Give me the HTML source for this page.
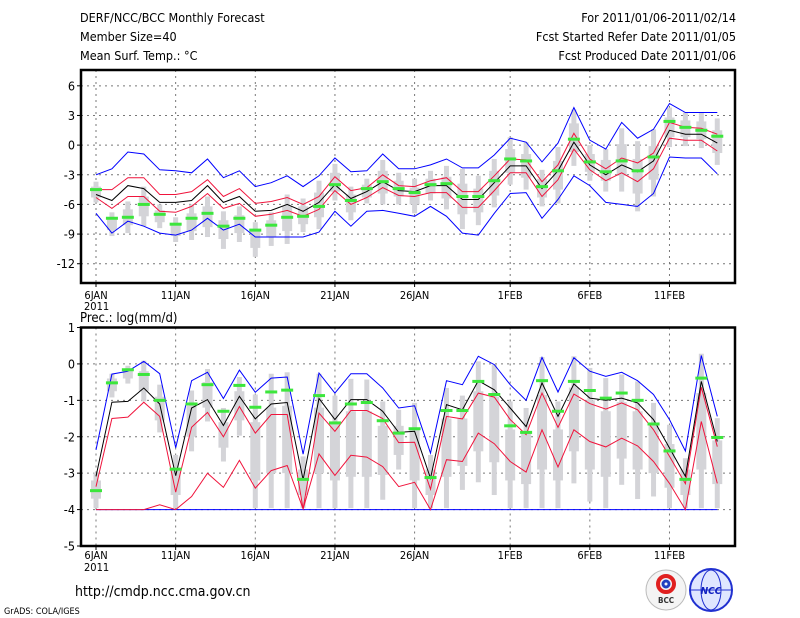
<!DOCTYPE html>
<html><head><meta charset="utf-8">
<style>
html,body{margin:0;padding:0;background:#fff;}
svg{display:block;font-family:"DejaVu Sans Condensed","Liberation Sans Narrow","Liberation Sans",sans-serif;}
</style></head>
<body>
<svg id="chart" width="800" height="618" viewBox="0 0 800 618">
<rect width="800" height="618" fill="#fff"/>
<g font-size="12.5" fill="#000">
<text x="80" y="22">DERF/NCC/BCC Monthly Forecast</text>
<text x="80" y="41">Member Size=40</text>
<text x="80" y="60">Mean Surf. Temp.: °C</text>
<text x="736" y="22" text-anchor="end">For 2011/01/06-2011/02/14</text>
<text x="736" y="41" text-anchor="end">Fcst Started Refer Date 2011/01/05</text>
<text x="736" y="60" text-anchor="end">Fcst Produced Date 2011/01/06</text>
</g>
<text x="80" y="322" font-size="13">Prec.: log(mm/d)</text>
<text x="75" y="596" font-size="14">http://cmdp.ncc.cma.gov.cn</text>
<text x="4" y="614" font-size="9">GrADS: COLA/IGES</text>
<g>
<circle cx="666" cy="590" r="20" fill="#f4f4f4" stroke="#bbb"/>
<circle cx="666" cy="584" r="8" fill="none" stroke="#e02020" stroke-width="4"/>
<circle cx="666" cy="584" r="3" fill="none" stroke="#2040c0" stroke-width="3"/>
<text x="666" y="603" font-size="8" text-anchor="middle" font-weight="bold" fill="#333">BCC</text>
</g>
<g>
<circle cx="711" cy="590" r="21" fill="#dfe6ff" stroke="#2030d0" stroke-width="2"/>
<ellipse cx="711" cy="590" rx="10" ry="20" fill="none" stroke="#2030d0"/>
<line x1="690" y1="590" x2="732" y2="590" stroke="#2030d0"/>
<text x="711" y="594" font-size="10" text-anchor="middle" font-style="italic" font-weight="bold" fill="#1020c0">NCC</text>
</g>
<g id="top"></g>
<g id="bot"></g>
</svg>
<script>
// ---- data ----
const dayLabels = ["6JAN","11JAN","16JAN","21JAN","26JAN","1FEB","6FEB","11FEB"];
const dayLabelIdx = [0,5,10,15,20,26,31,36];
const tTicks = [6,3,0,-3,-6,-9,-12];
const pTicks = [1,0,-1,-2,-3,-4,-5];
// temperature
const tMax = [-3.0,-2.4,-0.7,-0.9,-2.5,-2.6,-2.8,-1.4,-3.3,-2.6,-4.2,-3.8,-3.1,-4.2,-3.1,-1.3,-2.7,-2.6,-0.9,-2.4,-2.4,-2.0,-1.4,-2.3,-2.3,-1.0,0.7,0.3,-1.7,0.2,3.8,0.5,-0.4,2.3,0.7,1.6,4.2,3.3,3.3,3.3];
const tMin = [-6.9,-8.9,-7.7,-8.2,-8.9,-9.1,-8.6,-7.4,-8.6,-8.0,-9.3,-9.3,-9.3,-9.3,-8.8,-6.7,-8.2,-6.7,-6.6,-6.9,-7.2,-6.2,-7.2,-8.9,-9.1,-6.9,-4.9,-4.8,-7.4,-5.5,-3.1,-4.1,-5.8,-6.0,-6.2,-4.9,-1.2,-1.3,-1.3,-2.9];
const tRedHi = [-4.5,-4.5,-3.3,-3.3,-5.0,-5.0,-4.7,-3.5,-5.2,-4.4,-5.9,-5.7,-5.3,-6.0,-5.2,-3.2,-4.6,-4.3,-3.0,-4.1,-4.2,-3.6,-3.3,-4.7,-4.7,-3.1,-1.4,-1.5,-3.7,-2.0,1.2,-1.4,-2.4,-1.3,-1.8,-0.8,2.3,1.8,1.7,1.1];
const tRedLo = [-5.3,-6.4,-5.2,-5.2,-6.7,-6.8,-6.2,-4.9,-6.4,-5.9,-7.2,-7.0,-6.6,-7.2,-6.5,-4.6,-6.0,-5.3,-4.3,-5.1,-5.2,-4.8,-4.8,-6.3,-6.3,-4.6,-2.8,-2.8,-5.2,-3.5,-0.4,-2.5,-3.6,-2.8,-3.7,-2.4,0.7,0.5,0.5,-0.6];
const tMean = [-5.0,-5.6,-4.1,-4.4,-5.8,-5.8,-5.6,-4.1,-5.8,-5.2,-6.7,-6.6,-6.0,-6.7,-5.8,-4.0,-5.4,-4.7,-3.7,-4.6,-4.7,-4.1,-4.1,-5.5,-5.5,-3.8,-2.1,-2.1,-4.4,-2.6,0.3,-2.0,-3.0,-2.0,-2.7,-1.6,1.5,1.1,1.1,0.2];
const tObs = [-4.5,-7.4,-7.3,-6.0,-7.0,-8.0,-7.4,-6.9,-8.2,-7.4,-8.6,-8.1,-7.3,-7.2,-6.2,-4.0,-5.6,-4.4,-3.7,-4.4,-4.8,-4.0,-3.9,-5.2,-5.2,-3.6,-1.4,-1.6,-4.2,-2.6,0.6,-1.7,-2.7,-1.6,-2.6,-1.2,2.4,1.8,1.5,0.9];
const tBarHi = [-3.7,-6.8,-5.7,-4.2,-6.0,-7.3,-6.0,-5.2,-6.7,-6.2,-7.8,-6.8,-5.0,-5.4,-3.6,-1.9,-4.2,-3.4,-1.5,-2.8,-3.4,-2.6,-2.1,-2.4,-3.1,-1.4,0.8,0.3,-2.5,-0.2,3.6,0.0,-0.4,1.7,0.4,1.6,3.8,3.3,3.3,2.7];
const tBarLo = [-5.8,-9.2,-8.9,-8.2,-8.4,-9.8,-9.6,-9.3,-10.5,-9.8,-11.3,-10.2,-10.0,-8.8,-8.5,-5.6,-7.6,-5.9,-6.0,-6.0,-6.9,-5.6,-6.5,-8.5,-8.1,-6.3,-4.0,-4.5,-6.2,-5.9,-2.1,-3.6,-4.7,-4.7,-6.7,-5.2,-0.2,-0.1,-0.3,-2.0];
const tBoxHi = [-4.2,-7.4,-6.5,-5.2,-6.6,-7.9,-6.9,-6.2,-7.6,-7.1,-8.7,-7.6,-6.2,-6.2,-4.8,-2.8,-5.0,-4.0,-2.6,-3.6,-4.3,-3.4,-3.2,-3.9,-4.4,-2.6,-0.4,-0.9,-3.4,-1.6,2.2,-0.9,-1.5,0.1,-1.4,-0.1,2.8,2.5,2.4,1.5];
const tBoxLo = [-5.3,-8.6,-8.1,-7.2,-7.8,-9.2,-8.7,-8.3,-9.5,-8.9,-10.4,-9.3,-8.7,-8.0,-7.3,-4.7,-6.8,-5.3,-4.9,-5.2,-6.0,-4.9,-5.4,-7.0,-6.8,-5.1,-2.8,-3.3,-5.3,-4.5,-0.7,-2.7,-3.6,-3.1,-4.9,-3.5,0.8,0.8,0.6,-0.8];
// precipitation
const pMax = [-2.36,-0.28,-0.2,0.07,-0.27,-2.3,-0.46,-0.23,-0.95,-0.17,-0.78,-0.39,-0.36,-2.48,-0.25,-0.8,-0.27,-0.27,-0.66,-1.21,-1.15,-2.45,-0.46,-0.57,0.21,-0.02,-0.57,-1.0,0.18,-0.77,0.17,-0.2,-0.34,-0.23,-0.46,-0.84,-1.53,-2.39,0.23,-1.44];
const pMin = [-4,-4,-4,-4,-4,-4,-4,-4,-4,-4,-4,-4,-4,-4,-4,-4,-4,-4,-4,-4,-4,-4,-4,-4,-4,-4,-4,-4,-4,-4,-4,-4,-4,-4,-4,-4,-4,-4,-4,-4];
const pMean = [-3.09,-1.05,-1.03,-0.66,-1.1,-3.07,-1.21,-0.98,-1.69,-0.89,-1.51,-1.1,-1.06,-3.18,-0.95,-1.53,-0.98,-0.98,-1.3,-1.88,-1.85,-3.14,-1.12,-1.26,-0.46,-0.71,-1.21,-1.72,-0.52,-1.44,-0.55,-0.94,-1.0,-0.94,-1.07,-1.53,-2.31,-3.09,-0.48,-2.13];
const pRedHi = [-3.37,-1.5,-1.46,-1.05,-1.44,-3.52,-1.74,-1.33,-2.0,-1.17,-1.9,-1.39,-1.39,-3.98,-1.35,-1.85,-1.28,-1.28,-1.5,-2.16,-2.15,-3.44,-1.44,-1.51,-0.8,-0.91,-1.53,-1.94,-0.8,-1.74,-0.83,-1.09,-1.24,-1.07,-1.26,-1.81,-2.54,-3.29,-0.64,-2.27];
const pRedLo = [-4.0,-4.0,-4.0,-4.0,-3.87,-4.0,-3.64,-3.0,-3.39,-2.65,-3.41,-2.93,-2.79,-3.98,-2.47,-3.06,-2.51,-2.56,-2.82,-3.37,-3.25,-4.0,-2.63,-2.68,-1.9,-2.19,-2.68,-2.97,-1.81,-2.83,-1.81,-2.13,-2.28,-2.04,-2.25,-2.68,-3.28,-4.0,-1.58,-3.28];
const pObs = [-3.48,-0.52,-0.16,-0.29,-1.0,-2.89,-1.1,-0.57,-1.3,-0.59,-1.19,-0.77,-0.72,-3.17,-0.87,-1.62,-1.1,-1.06,-1.56,-1.9,-1.78,-3.12,-1.28,-1.28,-0.48,-0.84,-1.7,-1.88,-0.46,-1.3,-0.48,-0.73,-0.94,-0.8,-1.0,-1.65,-2.39,-3.17,-0.39,-2.02];
const pBarHi = [-2.98,-0.27,-0.05,0.09,-0.57,-2.5,-0.73,-0.14,-1.21,-0.36,-0.84,-0.27,-0.23,-2.54,-0.27,-0.87,-0.41,-0.43,-1.03,-1.26,-1.07,-2.5,-0.66,-0.87,0.07,-0.02,-1.03,-1.21,0.19,-1.03,0.21,-0.11,-0.39,-0.29,-0.48,-1.07,-1.67,-2.59,0.28,-1.49];
const pBarLo = [-3.96,-0.92,-0.54,-1.03,-1.88,-3.96,-2.4,-1.58,-2.68,-1.97,-3.96,-3.96,-3.96,-3.96,-3.96,-3.96,-3.96,-3.96,-3.73,-2.9,-3.96,-3.96,-3.96,-3.46,-3.25,-3.6,-3.96,-3.96,-3.96,-3.96,-3.28,-3.78,-3.96,-3.32,-3.71,-3.64,-3.96,-3.96,-3.96,-3.96];
const pBoxHi = [-3.2,-0.4,-0.15,-0.2,-0.9,-2.9,-1.15,-0.5,-1.6,-0.75,-1.6,-1.2,-1.15,-2.9,-1.2,-1.6,-1.3,-1.3,-1.7,-1.7,-1.8,-2.9,-1.5,-1.5,-0.75,-0.9,-1.8,-1.9,-0.85,-1.8,-0.65,-1.0,-1.3,-1.05,-1.3,-1.7,-2.2,-2.9,-0.8,-2.1];
const pBoxLo = [-3.7,-0.75,-0.4,-0.75,-1.55,-3.6,-2.0,-1.2,-2.3,-1.55,-3.2,-3.0,-3.0,-3.6,-3.0,-3.2,-3.1,-3.1,-3.05,-2.5,-3.2,-3.6,-3.1,-2.8,-2.4,-2.7,-3.2,-3.3,-2.9,-3.2,-2.4,-2.9,-3.1,-2.6,-2.9,-3.0,-3.4,-3.6,-2.9,-3.3];

// ---- drawing ----
const NS = "http://www.w3.org/2000/svg";
const X0 = 81, X1 = 735;
function xs(d){ return 96 + d*15.93; }
function mk(parent, tag, attrs){
  const e = document.createElementNS(NS, tag);
  for (const k in attrs) e.setAttribute(k, attrs[k]);
  parent.appendChild(e);
  return e;
}
function panel(g, top, bottom, vTop, vBot, ticks, data, labelY, yearY, pname){
  const ys = v => top + (vTop - v) * (bottom - top) / (vTop - vBot);
  // grid
  ticks.forEach(t => {
    const y = ys(t);
    if (y > top + 1 && y < bottom - 1) {
      const l = mk(g, "line", {x1:X0, x2:X1, y1:y, y2:y, stroke:"#777", "stroke-dasharray":"2,4", "stroke-width":1});
      
      
    }
    const tk = mk(g, "line", {x1:X0-4, x2:X0, y1:y, y2:y, stroke:"#000"});
    
    
    const tx = mk(g, "text", {x:X0-6, y:y+4.5, "font-size":12.5, "text-anchor":"end"});
    tx.textContent = t;
    
    
  });
  dayLabelIdx.forEach((d, i) => {
    const x = xs(d);
    const l = mk(g, "line", {x1:x, x2:x, y1:top, y2:bottom, stroke:"#777", "stroke-dasharray":"2,4"});
    
    
    const tk = mk(g, "line", {x1:x, x2:x, y1:bottom, y2:bottom+4, stroke:"#000"});
    
    
    const tx = mk(g, "text", {x:x, y:labelY, "font-size":11, "text-anchor":"middle"});
    tx.textContent = dayLabels[i];
    
    
  });
  const yr = mk(g, "text", {x:84, y:yearY, "font-size":11});
  yr.textContent = "2011";
  
  
  // boxes
  data.barHi.forEach((v, d) => {
    const x = xs(d);
    const b = mk(g, "rect", {x:x-2.5, width:5, y:ys(v), height:ys(data.barLo[d])-ys(v), fill:"#d4d4d8"});
    
    
    const q = mk(g, "rect", {x:x-5, width:10, y:ys(data.boxHi[d]), height:ys(data.boxLo[d])-ys(data.boxHi[d]), fill:"#d4d4d8"});
    
    
  });
  const line = (arr, color, name, w) => {
    const p = mk(g, "polyline", {points: arr.map((v,d)=>xs(d).toFixed(1)+","+ys(v).toFixed(1)).join(" "), fill:"none", stroke:color, "stroke-width":w||1});
    
    
  };
  line(data.min, "#0000ff", "min-line");
  line(data.max, "#0000ff", "max-line");
  line(data.redLo, "#f0143c", "lower-percentile-line");
  line(data.redHi, "#f0143c", "upper-percentile-line");
  line(data.mean, "#000", "ensemble-mean-line");
  data.obs.forEach((v, d) => {
    const r = mk(g, "rect", {x:xs(d)-6, width:12, y:ys(v)-1.5, height:3, fill:"#3ce63c"});
    
    
  });
  const f = mk(g, "rect", {x:X0, y:top, width:X1-X0, height:bottom-top, fill:"none", stroke:"#000", "stroke-width":2.5});
  
  
}
panel(document.getElementById("top"), 70, 283, 7.6, -13.95, tTicks,
  {max:tMax,min:tMin,redHi:tRedHi,redLo:tRedLo,mean:tMean,obs:tObs,barHi:tBarHi,barLo:tBarLo,boxHi:tBoxHi,boxLo:tBoxLo}, 299, 310, "temperature");
panel(document.getElementById("bot"), 327.5, 546, 1, -5, pTicks,
  {max:pMax,min:pMin,redHi:pRedHi,redLo:pRedLo,mean:pMean,obs:pObs,barHi:pBarHi,barLo:pBarLo,boxHi:pBoxHi,boxLo:pBoxLo}, 559, 571, "precipitation");
</script>
</body></html>
